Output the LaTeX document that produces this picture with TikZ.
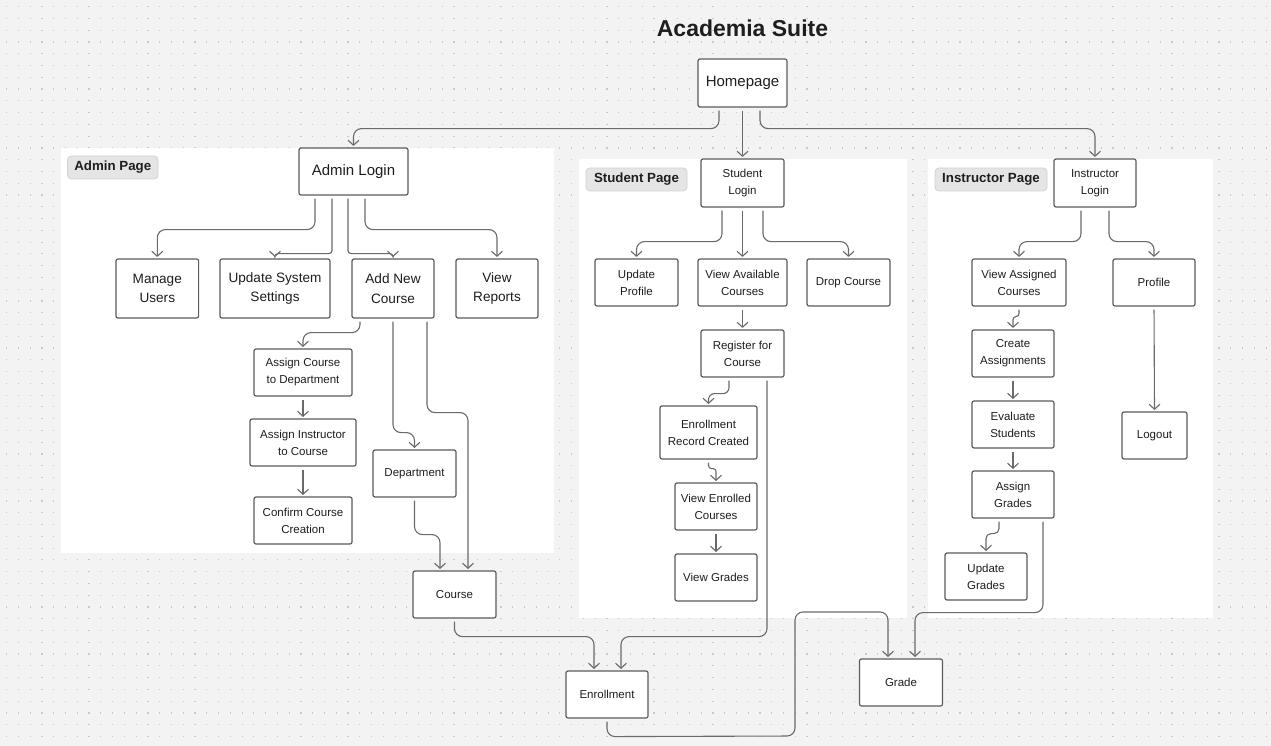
\documentclass[tikz,border=0pt]{standalone}
\usepackage{fontspec}
\setmainfont{Liberation Sans}
\usetikzlibrary{arrows.meta}
\definecolor{bg}{HTML}{F3F3F3}
\definecolor{dotc}{HTML}{C9C9C9}
\definecolor{boxline}{HTML}{5C5C5C}
\definecolor{arrc}{HTML}{6A6A6A}
\definecolor{tagfill}{HTML}{E5E5E5}
\definecolor{tagline}{HTML}{D2D2D2}
\definecolor{txt}{HTML}{1E1E1E}
\tikzset{
  box/.style={draw=boxline, line width=1.2pt, fill=white, rounded corners=2pt, align=center, inner sep=0pt, text=txt},
  smallbox/.style={box, font=\fontsize{11.5}{17}\selectfont},
  bigbox/.style={box, font=\fontsize{13.6}{19.5}\selectfont},
  panel/.style={fill=white, draw=none},
  tag/.style={fill=tagfill, draw=tagline, line width=0.8pt, rounded corners=4pt, font=\bfseries\fontsize{13.3}{16}\selectfont, text=txt, inner sep=0pt},
  arr/.style={draw=arrc, line width=1.1pt, rounded corners=8pt, shorten <=3pt, shorten >=1.5pt, -{Straight Barb[length=5pt,width=10.5pt,round]}},
  tight/.style={rounded corners=3pt}
}
\begin{document}
\begin{tikzpicture}[x=1pt,y=-1pt]
\useasboundingbox (0,0) rectangle (1271,746);
\fill[bg] (0,0) rectangle (1271,746);
% dot grid
\foreach \i in {0,...,63}{
  \draw[dotc, line width=1.2pt, dash pattern=on 1.2pt off 10.57pt] (6.1,{6.7+11.77*\i}) -- (1271,{6.7+11.77*\i});
}
% panels
\fill[panel] (61,148) rectangle (553.6,552.7);
\fill[panel] (579,159) rectangle (907,617.7);
\fill[panel] (928,159) rectangle (1213,617.7);
% title
\node[font=\bfseries\fontsize{23}{27}\selectfont, text=txt] (title) at (742.5,28) {Academia Suite};
% tags
\node[tag, minimum width=90.5, minimum height=23] (tadmin) at (112.8,167.5) {Admin Page};
\node[tag, minimum width=101, minimum height=23] (tstud) at (636.5,179.5) {Student Page};
\node[tag, minimum width=112, minimum height=23] (tinst) at (991,179.5) {Instructor Page};
% nodes
\node[bigbox, font=\fontsize{15}{19}\selectfont, minimum width=89, minimum height=48] (home) at (742.5,83) {Homepage};
\node[bigbox, font=\fontsize{15}{19}\selectfont, minimum width=109, minimum height=47] (alogin) at (353.5,171.5) {Admin Login};
\node[bigbox, minimum width=82.6, minimum height=59] (manage) at (157.3,288.5) {Manage\\Users};
\node[bigbox, minimum width=110, minimum height=59] (update) at (275,288.5) {Update System\\Settings};
\node[bigbox, minimum width=82, minimum height=59] (addnew) at (393,288.5) {Add New\\Course};
\node[bigbox, minimum width=82, minimum height=59] (reports) at (497,288.5) {View\\Reports};
\node[smallbox, minimum width=98, minimum height=47] (assignc) at (303,372.5) {Assign Course\\to Department};
\node[smallbox, minimum width=106, minimum height=47] (assigni) at (303,442.5) {Assign Instructor\\to Course};
\node[smallbox, minimum width=98, minimum height=47] (confirm) at (303,520.5) {Confirm Course\\Creation};
\node[smallbox, minimum width=83, minimum height=47] (dept) at (414.5,473.5) {Department};
\node[smallbox, minimum width=83, minimum height=47] (course) at (454.5,594.5) {Course};
\node[smallbox, minimum width=83, minimum height=48] (slogin) at (742.5,183) {Student\\Login};
\node[smallbox, minimum width=83, minimum height=47] (uprof) at (636.5,282.5) {Update\\Profile};
\node[smallbox, minimum width=89, minimum height=47] (vavail) at (742.5,282.5) {View Available\\Courses};
\node[smallbox, minimum width=83, minimum height=47] (drop) at (848.5,282.5) {Drop Course};
\node[smallbox, minimum width=83, minimum height=47] (register) at (742.5,353.5) {Register for\\Course};
\node[smallbox, minimum width=97, minimum height=53] (erc) at (708.5,432.5) {Enrollment\\Record Created};
\node[smallbox, minimum width=82, minimum height=47] (venr) at (716,506.5) {View Enrolled\\Courses};
\node[smallbox, minimum width=82, minimum height=47] (vgrades) at (716,577.5) {View Grades};
\node[smallbox, minimum width=82, minimum height=47] (enroll) at (607,694.5) {Enrollment};
\node[smallbox, minimum width=83, minimum height=47] (grade) at (901,682.5) {Grade};
\node[smallbox, minimum width=82, minimum height=48] (ilogin) at (1095,183) {Instructor\\Login};
\node[smallbox, minimum width=94, minimum height=47] (vassign) at (1019,282.5) {View Assigned\\Courses};
\node[smallbox, minimum width=82, minimum height=47] (profile) at (1154,282.5) {Profile};
\node[smallbox, minimum width=82, minimum height=47] (create) at (1013,353.5) {Create\\Assignments};
\node[smallbox, minimum width=82, minimum height=47] (eval) at (1013,424.5) {Evaluate\\Students};
\node[smallbox, minimum width=82, minimum height=47] (agrades) at (1013,494.5) {Assign\\Grades};
\node[smallbox, minimum width=82, minimum height=47] (upgrades) at (986,576.5) {Update\\Grades};
\node[smallbox, minimum width=65, minimum height=47] (logout) at (1154.5,435.5) {Logout};
% connectors
\draw[arr] ([xshift=-23.5pt]home.south) -- ++(0,21) -| (alogin.north);
\draw[arr] (home.south) -- (slogin.north);
\draw[arr] ([xshift=17.5pt]home.south) -- ++(0,21) -| (ilogin.north);
\draw[arr] ([xshift=-38.5pt]alogin.south) -- ++(0,34) -| (manage.north);
\draw[arr, tight] ([xshift=-21.5pt]alogin.south) -- ++(0,58) -| (update.north);
\draw[arr, tight] ([xshift=-5.5pt]alogin.south) -- ++(0,58) -| (addnew.north);
\draw[arr] ([xshift=11.5pt]alogin.south) -- ++(0,34) -| (reports.north);
\draw[arr] ([xshift=-33pt]addnew.south) -- ++(0,14) -| (assignc.north);
\draw[arr] (assignc.south) -- (assigni.north);
\draw[arr] (assigni.south) -- (confirm.north);
\draw[arr] (addnew.south) -- ++(0,114) -| (dept.north);
\draw[arr] ([xshift=34pt]addnew.south) -- ++(0,94) -| ([xshift=13.5pt]course.north);
\draw[arr] (dept.south) -- ++(0,37) -| ([xshift=-14.5pt]course.north);
\draw[arr] (course.south) -- ++(0,18) -| ([xshift=-13pt]enroll.north);
\draw[arr] ([xshift=24.5pt]register.south) -- ++(0,259) -| ([xshift=14pt]enroll.north);
\draw[arr, rounded corners=6pt] ([xshift=-13.5pt]register.south) -- ++(0,16) -| (erc.north);
\draw[arr, tight] (erc.south) -- ++(0,9) -| (venr.north);
\draw[arr] (venr.south) -- (vgrades.north);
\draw[arr] ([xshift=-20.5pt]slogin.south) -- ++(0,34) -| (uprof.north);
\draw[arr] (slogin.south) -- (vavail.north);
\draw[arr] ([xshift=20.5pt]slogin.south) -- ++(0,34) -| (drop.north);
\draw[arr] (vavail.south) -- (register.north);
\draw[arr] ([xshift=-14pt]ilogin.south) -- ++(0,34) -| (vassign.north);
\draw[arr] ([xshift=14pt]ilogin.south) -- ++(0,34) -| (profile.north);
\draw[arr, tight] (vassign.south) -- ++(0,10) -| (create.north);
\draw[arr] (create.south) -- (eval.north);
\draw[arr] (eval.south) -- (agrades.north);
\draw[arr, rounded corners=5pt] ([xshift=-14pt]agrades.south) -- ++(0,15) -| (upgrades.north);
\draw[arr] ([xshift=30pt]agrades.south) -- ++(0,94) -| ([xshift=14pt]grade.north);
\draw[arr] (enroll.south) -- ++(0,18) -- (795,736) -- (795,612) -| ([xshift=-13pt]grade.north);
\draw[arr] (profile.south) -- (logout.north);
\end{tikzpicture}
\end{document}
